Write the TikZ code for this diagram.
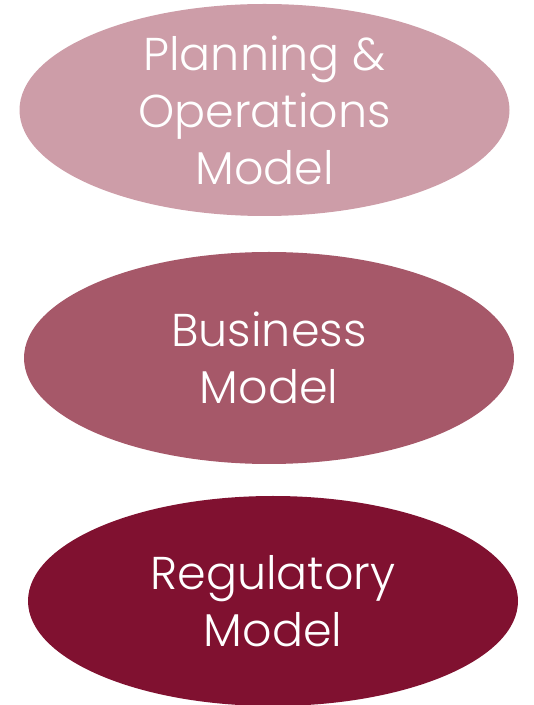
\documentclass[tikz,border=0pt]{standalone}
\usepackage{fontspec}
\setmainfont{Poppins}[UprightFont=* Light]
\usetikzlibrary{shapes.geometric}
\definecolor{planfill}{HTML}{CD9DA8}
\definecolor{busfill}{HTML}{A65869}
\definecolor{regfill}{HTML}{801130}
\tikzset{
  modelbox/.style={ellipse, inner sep=0pt, minimum width=490pt, minimum height=212pt,
    text=white, align=center, font=\fontsize{46}{57}\selectfont}
}
\begin{document}
\begin{tikzpicture}[x=1pt,y=1pt]
\useasboundingbox (0,0) rectangle (534,705);
\node[modelbox, fill=planfill] (plan) at (264.5,595) {Planning \&\\Operations\\Model};
\node[modelbox, fill=busfill] (bus) at (269,347) {Business\\Model};
\node[modelbox, fill=regfill, minimum height=210pt] (reg) at (273,104) {Regulatory\\Model};
\end{tikzpicture}
\end{document}
